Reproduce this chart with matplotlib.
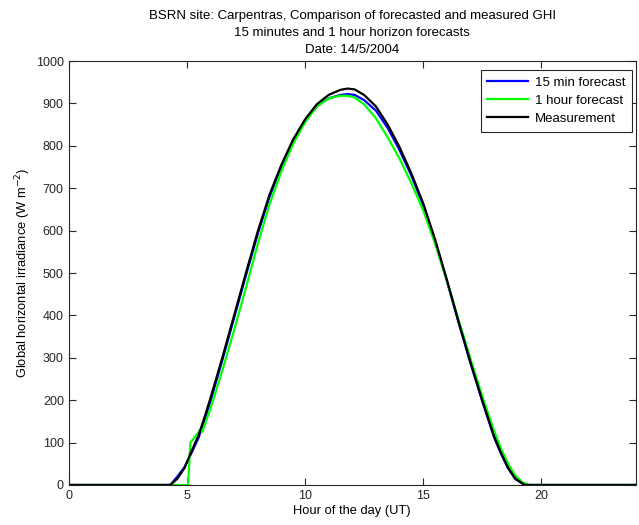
import matplotlib
matplotlib.use("Agg")
import matplotlib.pyplot as plt

# measured GHI (hour UT, W/m2)
meas_h = [0, 4.3, 4.6, 4.9, 5.2, 5.5, 5.75, 6.0, 6.5, 7.0, 7.5, 8.0, 8.5, 9.0,
          9.5, 10.0, 10.5, 11.0, 11.5, 11.8, 12.1, 12.5, 13.0, 13.5, 14.0,
          14.5, 15.0, 15.5, 16.0, 16.5, 17.0, 17.5, 18.0, 18.3, 18.6, 18.9, 19.3, 24]
meas_v = [0, 0, 15, 40, 80, 118, 160, 205, 300, 400, 500, 598, 685, 755,
          815, 862, 898, 920, 932, 935, 933, 920, 893, 850, 797,
          735, 665, 580, 485, 385, 290, 200, 115, 75, 40, 15, 0, 0]

# 15 minute horizon forecast
f15_h = [0, 4.3, 4.6, 4.9, 5.2, 5.5, 5.75, 6.0, 6.5, 7.0, 7.5, 8.0, 8.5, 9.0,
         9.5, 10.0, 10.5, 11.0, 11.5, 11.8, 12.1, 12.5, 13.0, 13.5, 14.0,
         14.5, 15.0, 15.5, 16.0, 16.5, 17.0, 17.5, 18.0, 18.3, 18.6, 18.9, 19.3, 24]
f15_v = [0, 0, 20, 42, 76, 112, 154, 198, 294, 394, 494, 592, 680, 752,
         812, 858, 893, 912, 920, 922, 920, 908, 883, 842, 790,
         730, 660, 576, 482, 383, 288, 198, 113, 73, 39, 14, 0, 0]

# 1 hour horizon forecast
f60_h = [0, 5.05, 5.15, 5.4, 5.6, 5.65, 6.0, 6.5, 7.0, 7.5, 8.0, 8.5, 9.0,
         9.5, 10.0, 10.5, 11.0, 11.5, 11.8, 12.1, 12.5, 13.0, 13.5, 14.0,
         14.5, 15.0, 15.5, 16.0, 16.5, 17.0, 17.5, 18.0, 18.3, 18.6, 18.9,
         19.2, 19.5, 24]
f60_v = [0, 0, 100, 118, 132, 125, 180, 270, 365, 465, 568, 662, 740,
         805, 855, 893, 912, 918, 918, 914, 898, 865, 820, 770,
         712, 648, 570, 482, 390, 298, 210, 128, 85, 50, 22,
         6, 0, 0]

plt.rcParams["font.family"] = ["Liberation Sans", "DejaVu Sans"]
plt.rcParams["font.size"] = 9.3

fig = plt.figure(figsize=(6.39, 5.25), dpi=100)
ax = fig.add_axes([0.1075, 0.0762, 0.8875, 0.8076])

ax.plot(f15_h, f15_v, color="#0000ff", linewidth=1.6, label="15 min forecast")
ax.plot(f60_h, f60_v, color="#00ff00", linewidth=1.6, label="1 hour forecast")
ax.plot(meas_h, meas_v, color="#000000", linewidth=1.6, label="Measurement")

ax.set_xlim(0, 24)
ax.set_ylim(0, 1000)
ax.set_xticks([0, 5, 10, 15, 20])
ax.set_yticks(range(0, 1001, 100))
ax.tick_params(direction="in", top=True, right=True, length=5, width=0.8,
               colors="#262626", labelsize=9)
for s in ax.spines.values():
    s.set_color("#262626")
    s.set_linewidth(0.8)

ax.set_xlabel("Hour of the day (UT)", labelpad=2)
ax.set_ylabel("Global horizontal irradiance (W m$^{-2}$)", labelpad=2)
ax.set_title("BSRN site: Carpentras, Comparison of forecasted and measured GHI\n"
             "15 minutes and 1 hour horizon forecasts\nDate: 14/5/2004",
             fontsize=9.5, linespacing=1.55, pad=6)

leg = ax.legend(loc="upper right", bbox_to_anchor=(0.993, 0.979), borderaxespad=0,
                fontsize=9.5, handlelength=3.1, fancybox=False,
                framealpha=1, edgecolor="#262626",
                labelspacing=0.45, handletextpad=0.5, borderpad=0.5)
leg.get_frame().set_linewidth(0.8)

fig.savefig("out.png", dpi=100)
